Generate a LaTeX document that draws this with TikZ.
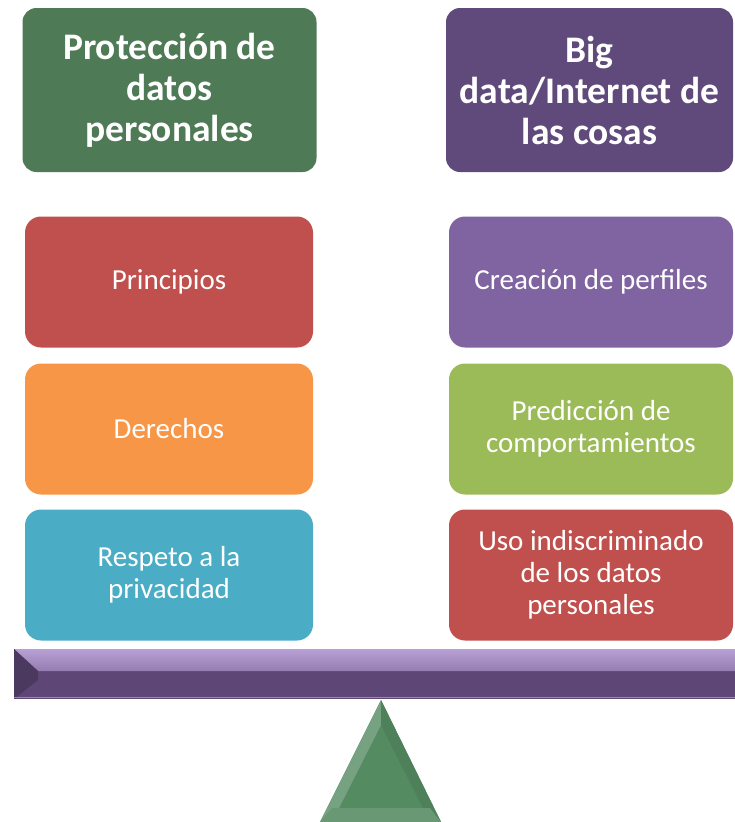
\documentclass[tikz,border=0pt]{standalone}
\usepackage{fontspec}
\setmainfont{Carlito}
\usepackage{tikz}

\definecolor{verdeosc}{HTML}{4E7A55}
\definecolor{moradoosc}{HTML}{5F4A7B}
\definecolor{rojo}{HTML}{C0504D}
\definecolor{naranja}{HTML}{F79646}
\definecolor{turquesa}{HTML}{4BACC6}
\definecolor{morado}{HTML}{8064A2}
\definecolor{verdeclaro}{HTML}{9BBB59}
\definecolor{barra}{HTML}{5E4777}
\definecolor{barraclara}{HTML}{B8A0D6}
\definecolor{soporte}{HTML}{558B61}

\begin{document}
\begin{tikzpicture}[x=1pt,y=-1pt,
  titulo/.style={rounded corners=14pt,minimum width=294pt,minimum height=164pt,
    text=white,align=center,font=\fontsize{37.5}{41}\selectfont\bfseries},
  caja/.style={rounded corners=16pt,minimum width=288pt,minimum height=131pt,
    text=white,align=center,font=\fontsize{29}{32}\selectfont}
  ]
    \useasboundingbox (0,0) rectangle (735,822);

    % encabezados
    \node[titulo,fill=verdeosc] (prot) at (169.5,90) {Protección de\\datos\\personales};
    \node[titulo,fill=moradoosc,minimum width=287pt] (big) at (589.5,90) {Big\\data/Internet de\\las cosas};

    % columna izquierda
    \node[caja,fill=rojo] (princ) at (169,282) {Principios};
    \node[caja,fill=naranja] (der) at (169,429) {Derechos};
    \node[caja,fill=turquesa] (resp) at (169,575) {Respeto a la\\privacidad};

    % columna derecha
    \node[caja,fill=morado,minimum width=284pt] (perf) at (591,282) {Creación de perfiles};
    \node[caja,fill=verdeclaro,minimum width=284pt] (pred) at (591,429) {Predicción de\\comportamientos};
    \node[caja,fill=rojo,minimum width=284pt] (uso) at (591,575) {Uso indiscriminado\\de los datos\\personales};

    % balanza
    \fill[barra] (14,649) rectangle (735,699);
    \shade[top color=barraclara,bottom color=barraclara!60!barra] (14,649) -- (735,649) -- (735,671) -- (38,671) -- cycle;
    \fill[barra!80!black] (14,649) -- (38,671) -- (38,680) -- (14,699) -- cycle;
    \draw[barraclara!70!barra,line width=1pt] (14,697) -- (735,697);

    \fill[soporte] (381,700) -- (441,822) -- (320,822) -- cycle;
    \fill[soporte!80!white] (381,700) -- (320,822) -- (332,822) -- (381,725) -- cycle;
    \fill[soporte!92!black] (381,700) -- (441,822) -- (430,822) -- (381,725) -- cycle;
    \fill[soporte!88!white] (332,808) -- (430,808) -- (441,822) -- (320,822) -- cycle;
\end{tikzpicture}
\end{document}
